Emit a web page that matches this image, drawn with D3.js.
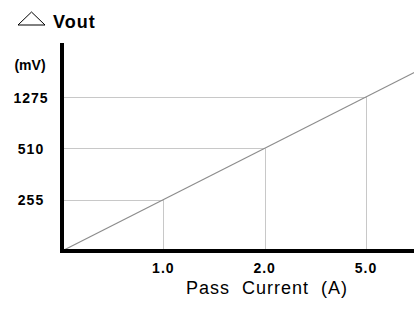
<!DOCTYPE html>
<html>
<head>
<meta charset="utf-8">
<script src="https://cdn.jsdelivr.net/npm/d3@7"></script>
<style>
  body { margin: 0; background: #fff; }
  svg { display: block; font-family: "Liberation Sans", Arial, sans-serif; }
</style>
</head>
<body>
<svg id="chart" width="414" height="309"></svg>
<script>
// data
var currents = ["1.0", "2.0", "5.0"];   // x tick labels (A)
var vout = [255, 510, 1275];            // y tick labels (mV)
var lineEnd = 3.5;                      // line runs past last tick to the edge

var svg = d3.select("#chart");
var x0 = 62, y0 = 251;

// ticks are evenly spaced, not to scale
var x = d3.scaleLinear().domain([0, 3]).range([x0, 366]);
var y = d3.scaleLinear().domain([0, 3]).range([y0, 97]);

// grid drop lines from each point
currents.forEach(function (c, i) {
  svg.append("line")
    .attr("x1", Math.round(x(i + 1)) + 0.5).attr("x2", Math.round(x(i + 1)) + 0.5)
    .attr("y1", y(i + 1)).attr("y2", y0)
    .attr("stroke", "#c8c8c8").attr("stroke-width", 1);
  svg.append("line")
    .attr("x1", x0).attr("x2", x(i + 1))
    .attr("y1", Math.round(y(i + 1)) + 0.5).attr("y2", Math.round(y(i + 1)) + 0.5)
    .attr("stroke", "#c8c8c8").attr("stroke-width", 1);
});

// the response line
var pts = [[0, 0], [lineEnd, lineEnd]];
svg.append("path")
  .datum(pts)
  .attr("d", d3.line().x(function (d) { return x(d[0]); }).y(function (d) { return y(d[1]); }))
  .attr("stroke", "#8c8c8c").attr("stroke-width", 1.2).attr("fill", "none");

// axes
svg.append("line").attr("x1", x0).attr("x2", x0).attr("y1", 43).attr("y2", y0 + 2)
  .attr("stroke", "#000").attr("stroke-width", 4);
svg.append("line").attr("x1", x0 - 2).attr("x2", 414).attr("y1", y0).attr("y2", y0)
  .attr("stroke", "#000").attr("stroke-width", 4);

// tick labels
currents.forEach(function (c, i) {
  svg.append("text").attr("x", x(i + 1)).attr("y", 273)
    .attr("text-anchor", "middle").attr("font-size", 14).attr("font-weight", "bold")
    .attr("letter-spacing", 1)
    .text(c);
});
vout.forEach(function (v, i) {
  svg.append("text").attr("x", 31).attr("y", y(i + 1) + 5.5)
    .attr("text-anchor", "middle").attr("font-size", 14).attr("font-weight", "bold")
    .attr("letter-spacing", 1)
    .text(v);
});
svg.append("text").attr("x", 30).attr("y", 70)
  .attr("text-anchor", "middle").attr("font-size", 14).attr("font-weight", "bold")
  .text("(mV)");

// titles: delta symbol + Vout
svg.append("path")
  .attr("d", "M18,25 L31.5,12 L45,25 Z")
  .attr("fill", "none").attr("stroke", "#000").attr("stroke-width", 1);
svg.append("text").attr("x", 53).attr("y", 28).attr("font-size", 18).attr("font-weight", "bold")
  .attr("letter-spacing", 1)
  .text("Vout");
svg.append("text").attr("x", 267).attr("y", 294)
  .attr("text-anchor", "middle").attr("font-size", 18)
  .attr("letter-spacing", 1).attr("xml:space", "preserve")
  .style("white-space", "pre")
  .text("Pass  Current  (A)");
</script>
</body>
</html>
